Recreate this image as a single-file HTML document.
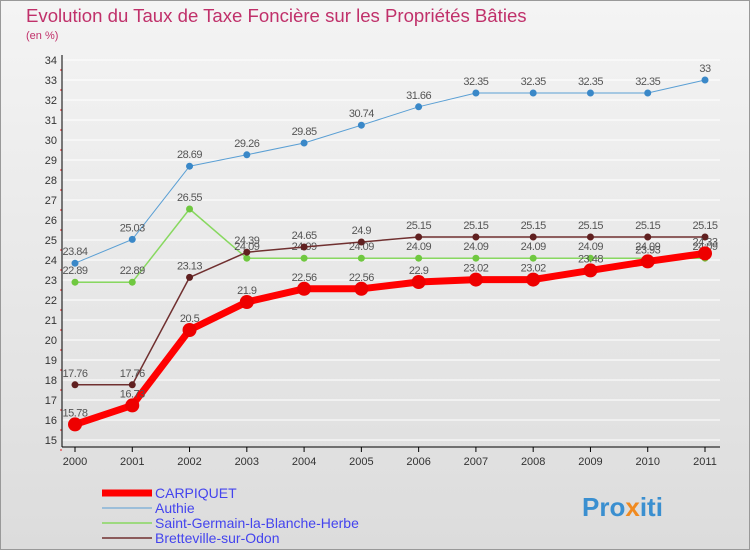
<!DOCTYPE html>
<html><head><meta charset="utf-8"><style>
body{margin:0;width:750px;height:550px;overflow:hidden;font-family:"Liberation Sans",sans-serif}
</style></head><body>
<svg id="c" width="750" height="550" xmlns="http://www.w3.org/2000/svg">
<defs><linearGradient id="bg" x1="0" y1="0" x2="0" y2="1"><stop offset="0" stop-color="#f4f4f4"/><stop offset="1" stop-color="#dcdcdc"/></linearGradient></defs>
<rect x="0.5" y="0.5" width="749" height="549" fill="url(#bg)" stroke="#999"/>
<text x="26" y="22" font-size="18.6" fill="#c0306a">Evolution du Taux de Taxe Foncière sur les Propriétés Bâties</text>
<text x="26" y="39" font-size="11" fill="#c0306a">(en %)</text>
<g id="grid"></g><g id="axes"></g><g id="series"></g><g id="legend"></g>
<text x="582" y="516" font-size="26" font-weight="bold" fill="#3a8fd0">Pro<tspan fill="#f08a20">x</tspan>iti</text>
</svg>
<script>
const years=[2000,2001,2002,2003,2004,2005,2006,2007,2008,2009,2010,2011];
const carpiquet=[15.78,16.73,20.5,21.9,22.56,22.56,22.9,23.02,23.02,23.48,23.93,24.33];
const authie=[23.84,25.03,28.69,29.26,29.85,30.74,31.66,32.35,32.35,32.35,32.35,33];
const stgermain=[22.89,22.89,26.55,24.09,24.09,24.09,24.09,24.09,24.09,24.09,24.09,24.09];
const bretteville=[17.76,17.76,23.13,24.39,24.65,24.9,25.15,25.15,25.15,25.15,25.15,25.15];
const yTicks=[15,16,17,18,19,20,21,22,23,24,25,26,27,28,29,30,31,32,33,34];
const NS="http://www.w3.org/2000/svg";
const X=i=>75+i*(705-75)/11, Y=v=>440-(v-15)*20;
function mk(t,a,p){const e=document.createElementNS(NS,t);for(const k in a)e.setAttribute(k,a[k]);p.appendChild(e);return e;}
const grid=document.getElementById('grid'),axes=document.getElementById('axes'),ser=document.getElementById('series'),leg=document.getElementById('legend');
yTicks.forEach(v=>{
 const l=mk('line',{x1:62,x2:720,y1:Y(v),y2:Y(v),stroke:'#fff','stroke-width':1},grid);
 
 
 const t=mk('text',{x:57,y:Y(v)+4,'font-size':11,fill:'#333','text-anchor':'end'},axes);
 t.textContent=v;
 
 
 mk('line',{x1:60,x2:62,y1:Y(v)+10,y2:Y(v)+10,stroke:'#e02020'},axes);
});
mk('line',{x1:62,x2:62,y1:55,y2:447,stroke:'#000'},axes);
mk('line',{x1:62,x2:720,y1:447,y2:447,stroke:'#000'},axes);
years.forEach((y,i)=>{
 mk('line',{x1:X(i),x2:X(i),y1:447,y2:452,stroke:'#000'},axes);
 const t=mk('text',{x:X(i),y:465,'font-size':11,fill:'#333','text-anchor':'middle'},axes);
 t.textContent=y;
 
 
});
function series(data,color,dot,w,r,name){
 const g=mk('g',{},ser);
 
 
 mk('polyline',{points:data.map((v,i)=>X(i)+','+Y(v)).join(' '),fill:'none',stroke:color,'stroke-width':w,'stroke-linejoin':'round'},g);
 data.forEach((v,i)=>{
  const c=mk('circle',{cx:X(i),cy:Y(v),r:r,fill:dot},g);
  
  
  const t=mk('text',{x:X(i),y:Y(v)-8,'font-size':11,fill:'#555','text-anchor':'middle','letter-spacing':'-0.5'},g);
  t.textContent=String(v);
 });
}
series(authie,'#5a9fd4','#3a88c8',1,3.5,'authie-series');
series(stgermain,'#88d860','#70c840',1.5,3.5,'saint-germain-series');
series(bretteville,'#703030','#602020',1.5,3.5,'bretteville-series');
series(carpiquet,'#ff0000','#ee0000',7,7,'carpiquet-series');
const L=[['CARPIQUET','#ff0000',7],['Authie','#5a9fd4',1],['Saint-Germain-la-Blanche-Herbe','#88d860',1.5],['Bretteville-sur-Odon','#703030',1.5]];
L.forEach((e,i)=>{
 const y=493+i*15;
 const g=mk('g',{},leg);
 
 
 mk('line',{x1:102,x2:152,y1:y,y2:y,stroke:e[1],'stroke-width':e[2]},g);
 const t=mk('text',{x:155,y:y+5,'font-size':14,fill:'#4444ee'},g);
 t.textContent=e[0];
});
</script>
</body></html>
